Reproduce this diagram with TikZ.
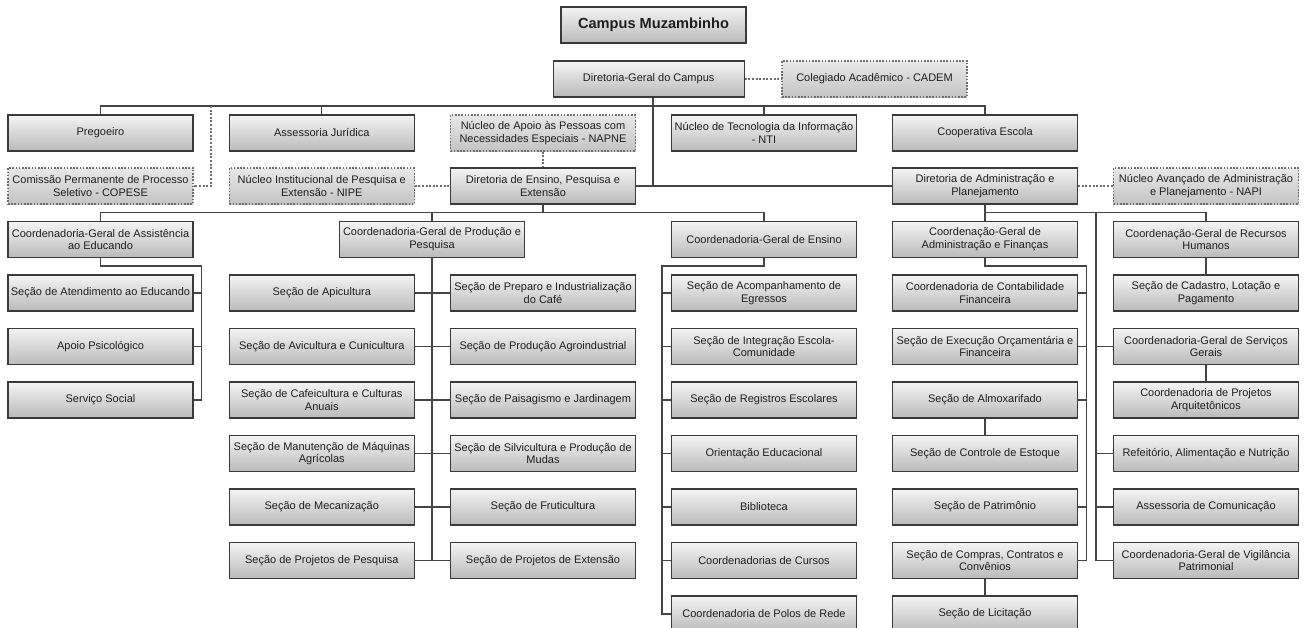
\documentclass[tikz,border=0pt]{standalone}
\usepackage{fontspec}
\setmainfont{Liberation Sans}
\definecolor{btop}{HTML}{F4F4F4}
\definecolor{bbot}{HTML}{BABABA}
\definecolor{dtop}{HTML}{E8E8E8}
\definecolor{dbot}{HTML}{C4C4C4}
\definecolor{boxline}{HTML}{3A3A3A}
\definecolor{dline}{HTML}{6E6E6E}
\definecolor{cline}{HTML}{454545}
\definecolor{txt}{HTML}{1E1E1E}
\tikzset{
  box/.style={draw=boxline, line width=1.2pt, top color=btop, bottom color=bbot,
    minimum width=185pt, minimum height=36pt, inner sep=0pt, align=center,
    font=\fontsize{11}{12.7}\selectfont, text=txt},
  dbox/.style={box, draw=dline, dash pattern=on 1.6pt off 1.6pt, line width=1.1pt,
    top color=dtop, bottom color=dbot},
  titlebox/.style={box, font=\fontsize{14.6}{16}\selectfont\bfseries},
  conn/.style={draw=cline, line width=1.2pt},
  dconn/.style={draw=dline, line width=1.1pt, dash pattern=on 2pt off 1.6pt},
}
\begin{document}
\begin{tikzpicture}[x=1pt,y=-1pt]
\clip (0,0) rectangle (1307,627);
\fill[white] (0,0) rectangle (1307,627);

% columns / rows
\def\cA{100.5}\def\cPa{321.8}\def\cPb{543}\def\cE{764}\def\cF{985}\def\cR{1206}
\def\rA{293}\def\rB{346.5}\def\rC{400}\def\rD{453.5}\def\rE{507}\def\rF{560.5}\def\rG{614}

\node[titlebox] (title) at (653.5,25) {Campus Muzambinho};
\node[box, minimum width=191pt] (dg) at (648.7,79) {Diretoria-Geral do Campus};
\node[dbox] (cadem) at (874.5,79) {Colegiado Acadêmico - CADEM};

\node[box] (prog) at (\cA,133) {Pregoeiro};
\node[box] (assj) at (\cPa,133) {Assessoria Jurídica};
\node[dbox] (napne) at (\cPb,133) {Núcleo de Apoio às Pessoas com\\Necessidades Especiais - NAPNE};
\node[box] (nti) at (\cE,133) {Núcleo de Tecnologia da Informação\\- NTI};
\node[box] (coop) at (\cF,133) {Cooperativa Escola};

\node[dbox] (copese) at (\cA,186) {Comissão Permanente de Processo\\Seletivo - COPESE};
\node[dbox] (nipe) at (\cPa,186) {Núcleo Institucional de Pesquisa e\\Extensão - NIPE};
\node[box] (dep) at (\cPb,186) {Diretoria de Ensino, Pesquisa e\\Extensão};
\node[box] (dap) at (\cF,186) {Diretoria de Administração e\\Planejamento};
\node[dbox] (napi) at (\cR,186) {Núcleo Avançado de Administração\\e Planejamento - NAPI};

\node[box] (cgae) at (\cA,239.5) {Coordenadoria-Geral de Assistência\\ao Educando};
\node[box] (cgpp) at (432,239.5) {Coordenadoria-Geral de Produção e\\Pesquisa};
\node[box] (cge) at (\cE,239.5) {Coordenadoria-Geral de Ensino};
\node[box] (cgaf) at (\cF,239.5) {Coordenação-Geral de\\Administração e Finanças};
\node[box] (cgrh) at (\cR,239.5) {Coordenação-Geral de Recursos\\Humanos};

% assistencia
\node[box] (sae) at (\cA,\rA) {Seção de Atendimento ao Educando};
\node[box] (apsi) at (\cA,\rB) {Apoio Psicológico};
\node[box] (sso) at (\cA,\rC) {Serviço Social};

% producao
\node[box] (api) at (\cPa,\rA) {Seção de Apicultura};
\node[box] (avi) at (\cPa,\rB) {Seção de Avicultura e Cunicultura};
\node[box] (caf) at (\cPa,\rC) {Seção de Cafeicultura e Culturas\\Anuais};
\node[box] (man) at (\cPa,\rD) {Seção de Manutenção de Máquinas\\Agrícolas};
\node[box] (mec) at (\cPa,\rE) {Seção de Mecanização};
\node[box] (ppq) at (\cPa,\rF) {Seção de Projetos de Pesquisa};
\node[box] (prep) at (\cPb,\rA) {Seção de Preparo e Industrialização\\do Café};
\node[box] (agro) at (\cPb,\rB) {Seção de Produção Agroindustrial};
\node[box] (pais) at (\cPb,\rC) {Seção de Paisagismo e Jardinagem};
\node[box] (silv) at (\cPb,\rD) {Seção de Silvicultura e Produção de\\Mudas};
\node[box] (fru) at (\cPb,\rE) {Seção de Fruticultura};
\node[box] (pext) at (\cPb,\rF) {Seção de Projetos de Extensão};

% ensino
\node[box] (acomp) at (\cE,\rA) {Seção de Acompanhamento de\\Egressos};
\node[box] (integ) at (\cE,\rB) {Seção de Integração Escola-\\Comunidade};
\node[box] (reg) at (\cE,\rC) {Seção de Registros Escolares};
\node[box] (ori) at (\cE,\rD) {Orientação Educacional};
\node[box] (bib) at (\cE,\rE) {Biblioteca};
\node[box] (cur) at (\cE,\rF) {Coordenadorias de Cursos};
\node[box] (polos) at (\cE,\rG) {Coordenadoria de Polos de Rede};

% financas
\node[box] (cont) at (\cF,\rA) {Coordenadoria de Contabilidade\\Financeira};
\node[box] (exec) at (\cF,\rB) {Seção de Execução Orçamentária e\\Financeira};
\node[box] (almox) at (\cF,\rC) {Seção de Almoxarifado};
\node[box] (estq) at (\cF,\rD) {Seção de Controle de Estoque};
\node[box] (patr) at (\cF,\rE) {Seção de Patrimônio};
\node[box] (comp) at (\cF,\rF) {Seção de Compras, Contratos e\\Convênios};
\node[box] (lic) at (\cF,\rG) {Seção de Licitação};

% rh / servicos
\node[box] (cad) at (\cR,\rA) {Seção de Cadastro, Lotação e\\Pagamento};
\node[box] (csg) at (\cR,\rB) {Coordenadoria-Geral de Serviços\\Gerais};
\node[box] (proj) at (\cR,\rC) {Coordenadoria de Projetos\\Arquitetônicos};
\node[box] (ref) at (\cR,\rD) {Refeitório, Alimentação e Nutrição};
\node[box] (asc) at (\cR,\rE) {Assessoria de Comunicação};
\node[box] (vig) at (\cR,\rF) {Coordenadoria-Geral de Vigilância\\Patrimonial};

% helper coordinates
\coordinate (bus1) at (0,106);
\coordinate (bus2) at (0,212.7);
\coordinate (cpd) at (211,106);
\coordinate (av) at (201.7,266);
\coordinate (ev) at (662,266);
\coordinate (fv) at (1086.7,266);
\coordinate (dv) at (1096,212.7);

% top level connectors
\draw[conn] (prog.north) -- (prog.north |- bus1) -- (coop.north |- bus1) -- (coop.north);
\draw[conn] (assj.north) -- (assj.north |- bus1);
\draw[conn] (nti.north) -- (nti.north |- bus1);
\draw[conn] ([xshift=4.3pt]dg.south) -- ([xshift=4.3pt]dg.south |- dep.east);
\draw[conn] (dep.east) -- (dap.west);
\draw[dconn] (dg.east) -- (cadem.west);
\draw[dconn] (cpd) |- (copese.east);
\draw[dconn] (nipe.east) -- (dep.west);
\draw[dconn] (napne.south) -- (dep.north);
\draw[dconn] (dap.east) -- (napi.west);

% ensino/pesquisa bus
\draw[conn] (dep.south) -- (dep.south |- bus2);
\draw[conn] (cgae.north) -- (cgae.north |- bus2) -- (cge.north |- bus2) -- (cge.north);
\draw[conn] (cgpp.north) -- (cgpp.north |- bus2);

% administracao bus
\draw[conn] (dap.south) -- (cgaf.north);
\draw[conn] (cgaf.north |- bus2) -- (cgrh.north |- bus2) -- (cgrh.north);
\draw[conn] (dv) |- (vig.west);
\foreach \n in {csg,ref,asc} \draw[conn] (\n.west) -- (\n.west -| dv);
\draw[conn] (cgrh.south) -- (cad.north);
\draw[conn] (csg.south) -- (proj.north);

% assistencia
\draw[conn] (cgae.south) |- (av) |- (sso.east);
\foreach \n in {sae,apsi} \draw[conn] (\n.east) -- (\n.east -| av);

% producao
\draw[conn] (cgpp.south) -- (cgpp.south |- ppq.east);
\draw[conn] (api.east) -- (prep.west);
\draw[conn] (avi.east) -- (agro.west);
\draw[conn] (caf.east) -- (pais.west);
\draw[conn] (man.east) -- (silv.west);
\draw[conn] (mec.east) -- (fru.west);
\draw[conn] (ppq.east) -- (pext.west);

% ensino
\draw[conn] (cge.south) |- (ev) |- (polos.west);
\foreach \n in {acomp,integ,reg,ori,bib,cur} \draw[conn] (\n.west) -- (\n.west -| ev);

% financas
\draw[conn] (cgaf.south) |- (fv) |- (comp.east);
\foreach \n in {cont,exec,almox,patr} \draw[conn] (\n.east) -- (\n.east -| fv);
\draw[conn] (almox.south) -- (estq.north);
\draw[conn] (comp.south) -- (lic.north);
\end{tikzpicture}
\end{document}
